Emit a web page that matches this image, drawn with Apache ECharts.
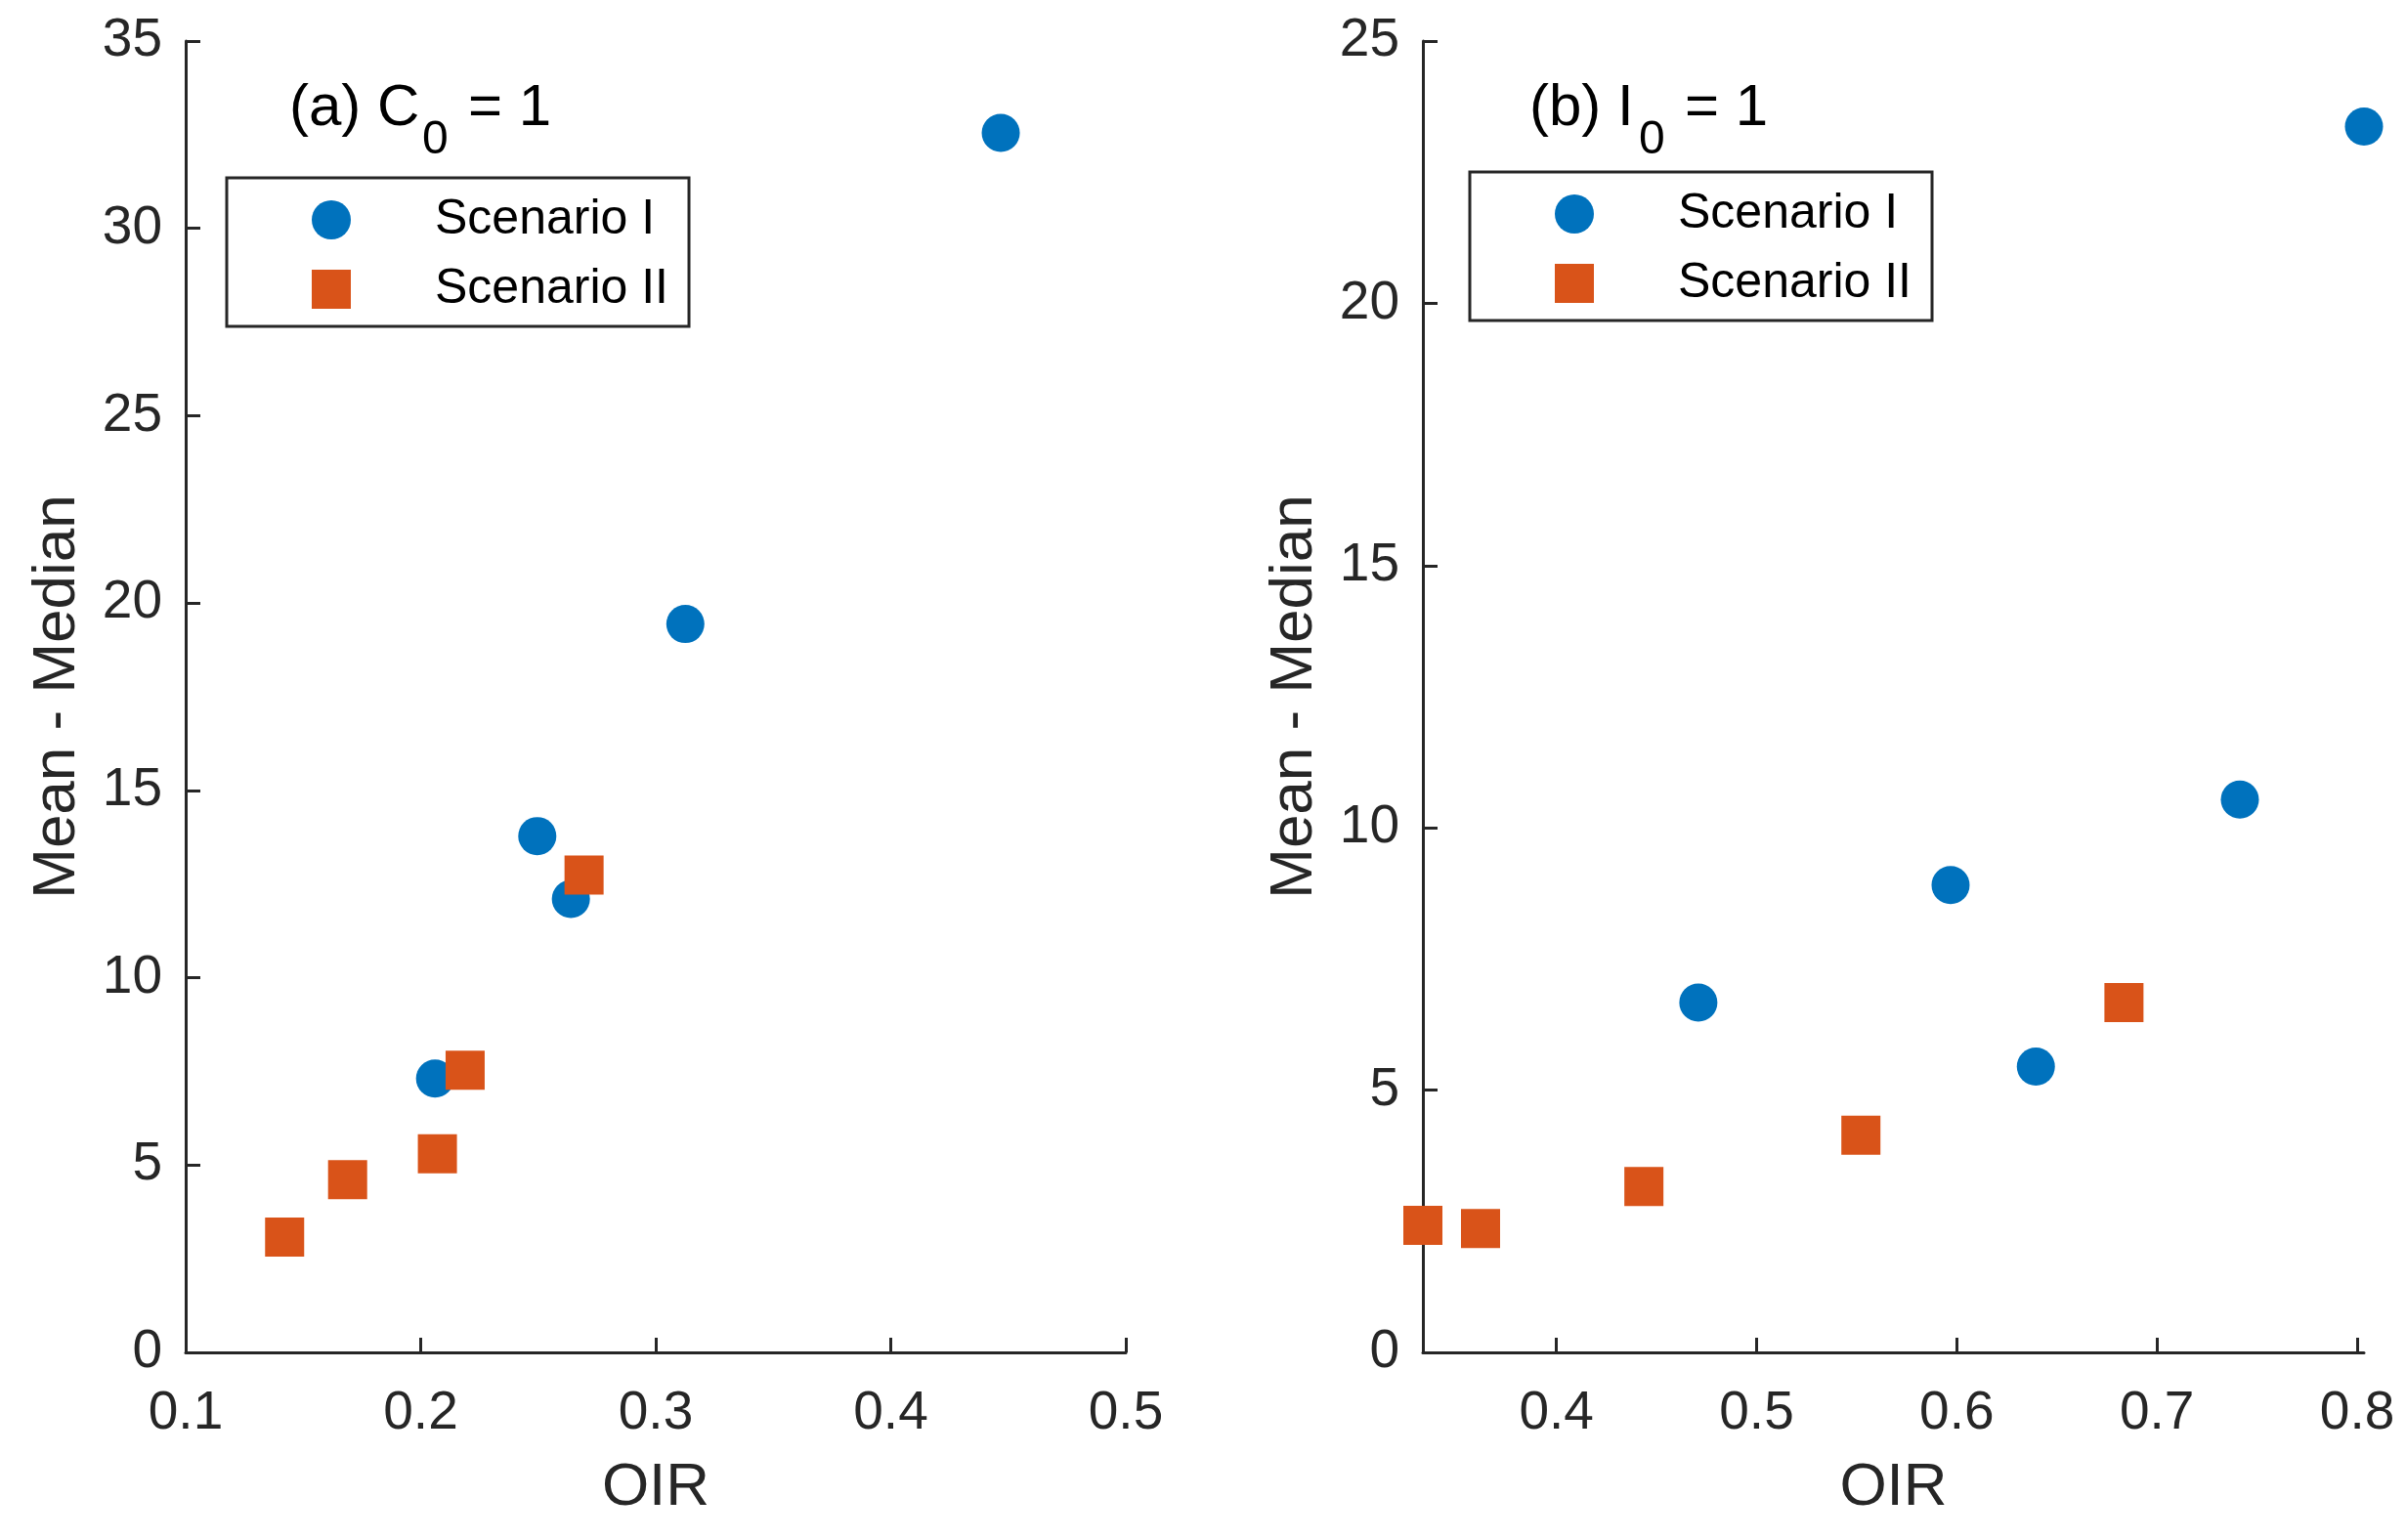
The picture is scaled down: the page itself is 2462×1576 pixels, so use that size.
<!DOCTYPE html>
<html>
<head>
<meta charset="utf-8">
<title>OIR vs Mean - Median</title>
<script src="https://cdn.jsdelivr.net/npm/echarts@6/dist/echarts.min.js"></script>
<style>
    html, body { margin: 0; padding: 0; background: #fff; }
    #main { width: 2462px; height: 1576px; }
</style>
</head>
<body>
<div id="main"></div>
<script>
//(a) C0 = 1
let oirA1 = [0.2061, 0.2496, 0.2639, 0.3126, 0.4468]
let diffA1 = [7.31, 13.78, 12.10, 19.44, 32.55]
let oirA2 = [0.1421, 0.1689, 0.2071, 0.2189, 0.2695]
let diffA2 = [3.08, 4.61, 5.30, 7.53, 12.74]
//(b) I0 = 1
let oirB1 = [0.4709, 0.5969, 0.6395, 0.7414, 0.8034]
let diffB1 = [6.67, 8.91, 5.45, 10.54, 23.37]
let oirB2 = [0.3333, 0.3621, 0.4437, 0.5521, 0.6835]
let diffB2 = [2.42, 2.36, 3.16, 4.14, 6.67]
//刻度
let xTicksB = [0.4, 0.5, 0.6, 0.7, 0.8]
let seriesNames = ['Scenario I', 'Scenario II']

let axisColor = '#262626'
let fontFam = '"Liberation Sans", Arial, Helvetica, sans-serif'

function pairs(xs, ys){
    let arr = []
    xs.forEach((x, i) => {
        arr.push([x, ys[i]])
    })
    return arr
}

function xAxisOf(idx, min, max, ticks){
    let ax = {
        type:'value',
        gridIndex: idx,
        min: min,
        max: max,
        name:'OIR',
        nameLocation:'middle',
        nameGap: 108,
        nameTextStyle:{fontSize: 62, color: axisColor, fontFamily: fontFam},
        axisLine:{show:true, onZero:false, lineStyle:{color: axisColor, width:3}},
        axisTick:{show:true, inside:true, length:15, lineStyle:{color: axisColor, width:3}},
        axisLabel:{fontSize:55, color: axisColor, fontFamily: fontFam, margin:35,
            showMinLabel:true, showMaxLabel:true,
            formatter: v => v.toFixed(1)},
        splitLine:{show:false}
    }
    if(ticks){
        ax.axisTick.customValues = ticks
        ax.axisLabel.customValues = ticks
    }else{
        ax.interval = 0.1
    }
    return ax
}

function yAxisOf(idx, max){
    return {
        type:'value',
        gridIndex: idx,
        min: 0,
        max: max,
        interval: 5,
        name:'Mean - Median',
        nameLocation:'middle',
        nameGap: 100,
        nameTextStyle:{fontSize: 62, color: axisColor, fontFamily: fontFam},
        axisLine:{show:true, onZero:false, lineStyle:{color: axisColor, width:3}},
        axisTick:{show:true, inside:true, length:15, lineStyle:{color: axisColor, width:3}},
        axisLabel:{fontSize:55, color: axisColor, fontFamily: fontFam, margin:24},
        splitLine:{show:false}
    }
}

function legendOf(left, top){
    return {
        left: left,
        top: top,
        orient:'vertical',
        data: seriesNames,
        selectedMode:false,
        itemWidth:40,
        itemHeight:40,
        itemGap:21,
        padding:[18, 21, 13, 87],
        borderColor: axisColor,
        borderWidth:3,
        borderRadius:0,
        backgroundColor:'#fff',
        textStyle:{fontSize:50, color:'#000', fontFamily: fontFam, lineHeight:40, padding:[0,0,0,81]}
    }
}

function scatterOf(name, idx, xs, ys, symbol, size, color){
    return {
        name: name,
        type:'scatter',
        xAxisIndex: idx,
        yAxisIndex: idx,
        symbol: symbol,
        symbolSize: size,
        clip:false,
        itemStyle:{color: color, opacity:1},
        data: pairs(xs, ys)
    }
}

function label(x, y, text, size){
    return {
        type:'text',
        x: x,
        y: y,
        z: 100,
        style:{text: text, fontSize: size, fontFamily: fontFam, fill:'#000',
            textVerticalAlign:'middle', verticalAlign:'middle'}
    }
}

let myChart = echarts.init(document.getElementById('main'))
let option = {
    animation:false,
    backgroundColor:'#fff',
    grid:[
        {left:190, top:42, width:962, height:1342},
        {left:1456, top:42, width:963, height:1342}
    ],
    xAxis:[
        xAxisOf(0, 0.1, 0.5),
        xAxisOf(1, Math.min(...oirB2), Math.max(...oirB1), xTicksB)
    ],
    yAxis:[
        yAxisOf(0, 35),
        yAxisOf(1, 25)
    ],
    legend:[
        legendOf(232, 182),
        legendOf(1504, 176)
    ],
    graphic:[
        label(296, 111, '(a) C', 60),
        label(432, 144, '0', 48),
        label(479, 111, '= 1', 60),
        label(1565, 111, '(b) I', 60),
        label(1677, 144, '0', 48),
        label(1724, 111, '= 1', 60)
    ],
    series:[
        scatterOf(seriesNames[0], 0, oirA1, diffA1, 'circle', 39, '#0072BD'),
        scatterOf(seriesNames[1], 0, oirA2, diffA2, 'rect', 40, '#D95319'),
        scatterOf(seriesNames[0], 1, oirB1, diffB1, 'circle', 39, '#0072BD'),
        scatterOf(seriesNames[1], 1, oirB2, diffB2, 'rect', 40, '#D95319')
    ]
}
myChart.setOption(option)
</script>
</body>
</html>
